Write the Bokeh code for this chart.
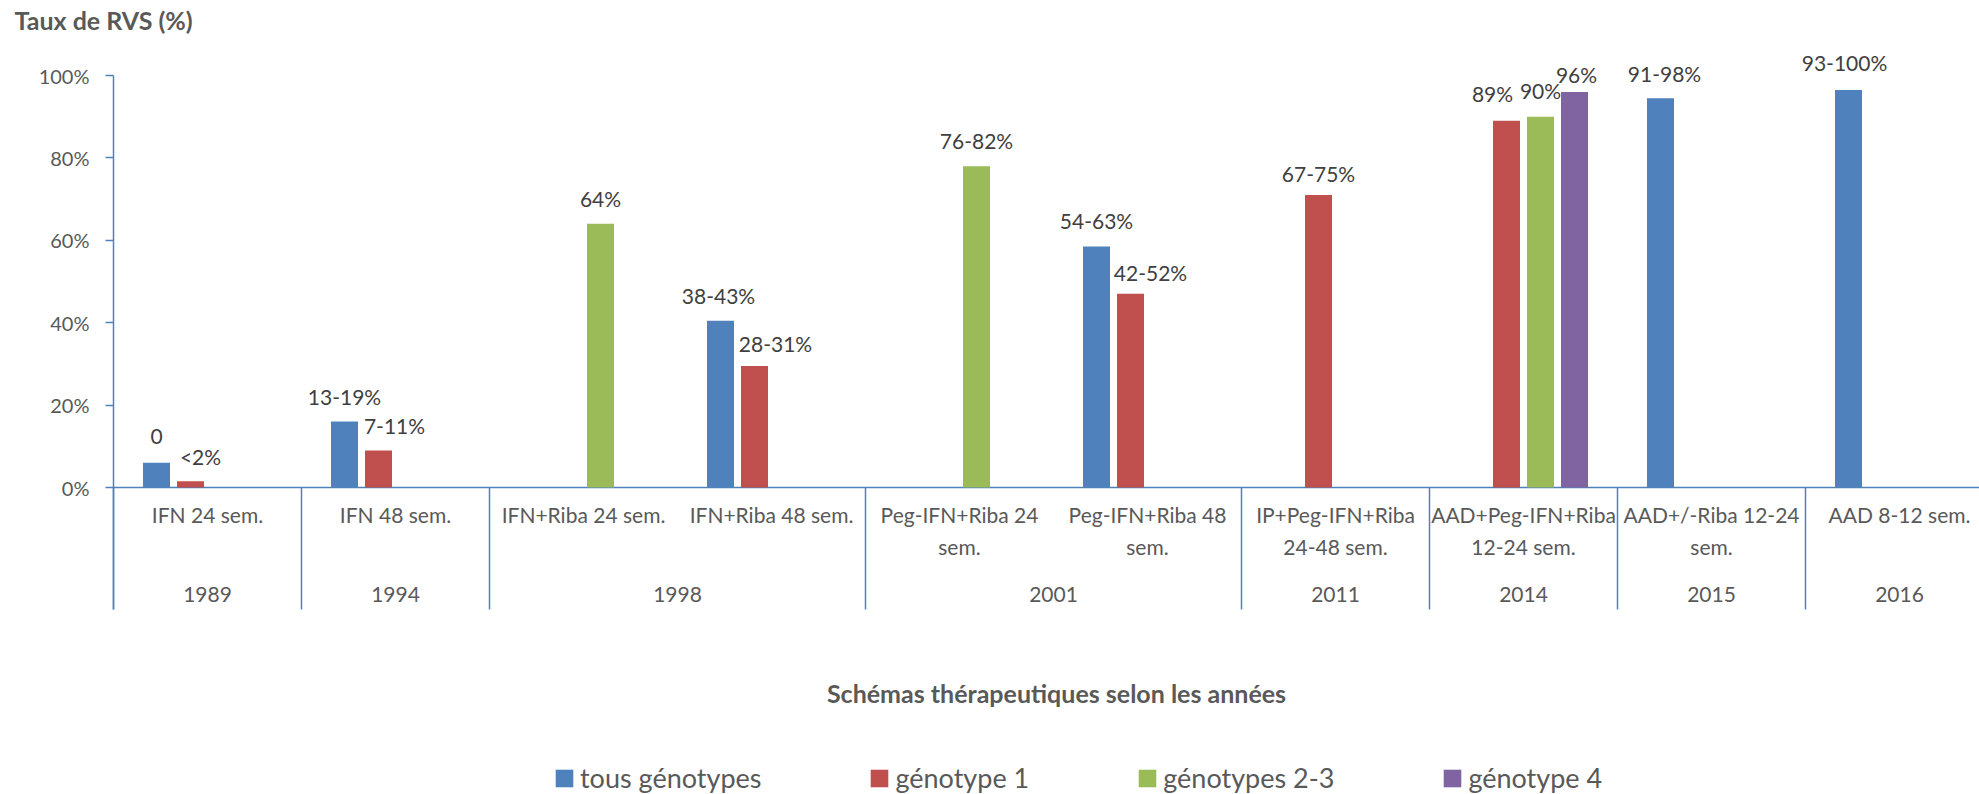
import math
from bokeh.plotting import figure
from bokeh.models import (Range1d, LinearAxis, FixedTicker, NumeralTickFormatter,
                          Legend, LegendItem, ColumnDataSource)
from bokeh.embed import file_html
from bokeh.resources import INLINE
from bokeh.core.properties import value

nan = float("nan")

# ---------------- data ----------------
schemes = ["IFN 24 sem.", "IFN 48 sem.", "IFN+Riba 24 sem.", "IFN+Riba 48 sem.",
           "Peg-IFN+Riba 24\nsem.", "Peg-IFN+Riba 48\nsem.", "IP+Peg-IFN+Riba\n24-48 sem.",
           "AAD+Peg-IFN+Riba\n12-24 sem.", "AAD+/-Riba 12-24\nsem.", "AAD 8-12 sem."]
years = ["1989", "1994", "1998", "2001", "2011", "2014", "2015", "2016"]
year_spans = [1, 1, 2, 2, 1, 1, 1, 1]

series_names = ["tous génotypes", "génotype 1", "génotypes 2-3", "génotype 4"]
tous_genotypes = [6, 16, nan, 40.5, nan, 58.5, nan, nan, 94.5, 96.5]
genotype_1 = [1.5, 9, nan, 29.5, nan, 47, 71, 89, nan, nan]
genotypes_2_3 = [nan, nan, 64, nan, 78, nan, nan, 90, nan, nan]
genotype_4 = [nan, nan, nan, nan, nan, nan, nan, 96, nan, nan]

labels_tous = ["0", "13-19%", "", "38-43%", "", "54-63%", "", "", "91-98%", "93-100%"]
labels_g1 = ["<2%", "7-11%", "", "28-31%", "", "42-52%", "67-75%", "89%", "", ""]
labels_g23 = ["", "", "64%", "", "76-82%", "", "", "90%", "", ""]
labels_g4 = ["", "", "", "", "", "", "", "96%", "", ""]

y_axis_title = "Taux de RVS (%)"
x_axis_title = "Schémas thérapeutiques selon les années"

# ---------------- style / placement ----------------
FONT = "Lato"
TXT = "#595959"
LBL = "#404040"
AXC = "#4F81BD"
colors = ["#4F81BD", "#C0504D", "#9BBB59", "#8064A2"]

W, H = 1979, 794
LEFT = 113
ZERO_PX = 487          # figure y-pixel of 0 %
CAT_PX = 188.0         # pixels per category
PX_PER_UNIT = 412.0    # pixels per 100 %
SEP_PX = 122           # separator length below the axis
TITLE_DX, TITLE_DY = -99, 468   # title position: px left of frame, px above 0 %
X_END = (W - LEFT) / CAT_PX
Y_END = ZERO_PX / PX_PER_UNIT
Y_START = -(H - ZERO_PX) / PX_PER_UNIT
SEP_Y = -SEP_PX / PX_PER_UNIT

slot = 34.0 / CAT_PX
bar_w = 27.0 / CAT_PX
slot_offsets = [-1.5 * slot, -0.5 * slot, 0.5 * slot, 1.5 * slot]

# label pixel offsets (dx right, dy up) per series
dx_all = [
    [0, 0, 0, -2, 0, 0, 0, 0, 4, -4],
    [10, 16, 0, 21, 0, 20, 0, -14, 0, 0],
    [0, 0, 0, 0, 0, 0, 0, 0, 0, 0],
    [0, 0, 0, 0, 0, 0, 0, 2, 0, 0],
]
dy_all = [
    [26, 25, 0, 25, 0, 26, 0, 0, 25, 27],
    [25, 25, 0, 22, 0, 21, 21, 27, 0, 0],
    [0, 0, 25, 0, 26, 0, 0, 26, 0, 0],
    [0, 0, 0, 0, 0, 0, 0, 17, 0, 0],
]

p = figure(width=W, height=H, x_range=Range1d(-LEFT / CAT_PX, X_END),
           y_range=Range1d(Y_START, Y_END),
           output_backend="svg", toolbar_location=None,
           x_axis_type=None, y_axis_type=None,
           min_border_left=0, min_border_right=0, min_border_top=0,
           min_border_bottom=0, outline_line_color=None)

# title of the value axis, top left
p.text(x=[0], y=[0], text=[y_axis_title], x_offset=TITLE_DX, y_offset=-TITLE_DY,
       text_align="left", text_baseline="middle", text_font=value(FONT),
       text_font_size="25px", text_font_style="bold", text_color=TXT)

# y axis drawn at x = 0 (its line continues down as the first separator)
yaxis = LinearAxis(ticker=FixedTicker(ticks=[0, 0.2, 0.4, 0.6, 0.8, 1.0]),
                   formatter=NumeralTickFormatter(format="0%"), bounds=(SEP_Y, 1.0),
                   fixed_location=0)
yaxis.axis_line_color = AXC
yaxis.axis_line_width = 1.5
yaxis.major_tick_line_color = AXC
yaxis.major_tick_line_width = 1.5
yaxis.major_tick_out = 8
yaxis.major_tick_in = 0
yaxis.minor_tick_line_color = None
yaxis.major_label_standoff = 16
yaxis.major_label_text_font = FONT
yaxis.major_label_text_font_size = "20px"
yaxis.major_label_text_color = TXT
p.add_layout(yaxis, "left")

# category axis drawn in data space
p.segment(x0=[0], y0=[0], x1=[X_END], y1=[0], line_color=AXC, line_width=1.5)

centers = [i + 0.5 for i in range(len(schemes))]
bounds_x, year_centers = [], []
acc = 0
for s in year_spans:
    bounds_x.append(acc)
    year_centers.append(acc + s / 2.0)
    acc += s

p.segment(x0=bounds_x, y0=[0] * len(bounds_x), x1=bounds_x, y1=[SEP_Y] * len(bounds_x),
          line_color=AXC, line_width=1.5)

p.text(x=centers, y=[0] * len(centers), text=schemes, y_offset=14,
       text_align="center", text_baseline="top", text_font=value(FONT),
       text_font_size="21px", text_color=TXT, text_line_height=1.3)
p.text(x=year_centers, y=[0] * len(year_centers), text=years, y_offset=107,
       text_align="center", text_baseline="middle", text_font=value(FONT),
       text_font_size="21px", text_color=TXT)
p.text(x=[X_END / 2.0], y=[0], text=[x_axis_title], y_offset=205, x_offset=10,
       text_align="center", text_baseline="middle", text_font=value(FONT),
       text_font_size="25px", text_font_style="bold", text_color=TXT)

series_vals = [tous_genotypes, genotype_1, genotypes_2_3, genotype_4]
series_labels = [labels_tous, labels_g1, labels_g23, labels_g4]
items = []
for k, (vals, labs) in enumerate(zip(series_vals, series_labels)):
    xs, tops, ls, dxs, dys = [], [], [], [], []
    for i, v in enumerate(vals):
        if math.isnan(v):
            continue
        xs.append(i + 0.5 + slot_offsets[k])
        tops.append(v / 100.0)
        ls.append(labs[i])
        dxs.append(dx_all[k][i])
        dys.append(-dy_all[k][i])
    src = ColumnDataSource(dict(x=xs, top=tops, label=ls, dx=dxs, dy=dys))
    r = p.vbar(x="x", top="top", bottom=0, width=bar_w, source=src,
               fill_color=colors[k], line_color=None)
    p.text(x="x", y="top", text="label", x_offset="dx", y_offset="dy", source=src,
           text_align="center", text_baseline="middle", text_font=value(FONT),
           text_font_size="21px", text_color=LBL)
    items.append(LegendItem(label=series_names[k], renderers=[r]))

legend = Legend(items=items, orientation="horizontal", location=(LEFT + 440, 0),
                glyph_width=22, glyph_height=22, label_standoff=5, spacing=107,
                border_line_color=None, background_fill_alpha=0, padding=0, margin=0,
                label_text_font=FONT, label_text_font_size="27px", label_text_color=TXT)
p.add_layout(legend, "center")

open("out.html", "w").write(file_html(p, INLINE))
